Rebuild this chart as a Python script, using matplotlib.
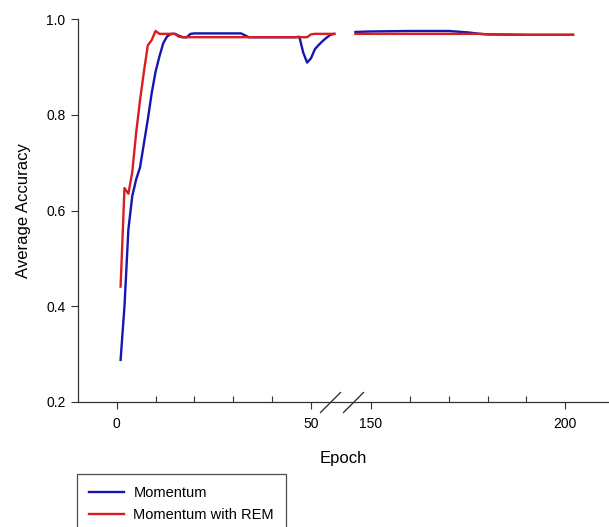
import matplotlib
matplotlib.use('Agg')
import matplotlib.pyplot as plt

plt.rcParams['font.family'] = ['Liberation Sans', 'DejaVu Sans']

# early training (epochs 1-56)
epochs_early = [1, 2, 3, 4, 5, 6, 7, 8, 9, 10, 11, 12, 13, 14, 15, 16, 17,
                18, 19, 20, 32, 33, 34, 46, 47, 48, 49, 50, 51, 52, 53, 54,
                55, 56]
momentum_early = [0.288, 0.40, 0.56, 0.63, 0.665, 0.69, 0.74, 0.79, 0.845,
                  0.89, 0.922, 0.95, 0.964, 0.969, 0.969, 0.965, 0.962,
                  0.962, 0.969, 0.970, 0.970, 0.966, 0.962, 0.962, 0.963,
                  0.93, 0.909, 0.918, 0.937, 0.946, 0.954, 0.961, 0.967,
                  0.969]
rem_early = [0.441, 0.647, 0.635, 0.68, 0.762, 0.83, 0.89, 0.945, 0.956,
             0.975, 0.969, 0.969, 0.969, 0.969, 0.969, 0.963, 0.962,
             0.962, 0.962, 0.962, 0.962, 0.962, 0.962, 0.962, 0.962,
             0.962, 0.962, 0.968, 0.969, 0.969, 0.969, 0.969, 0.969,
             0.969]

# late training (epochs 146-202)
epochs_late = [146, 150, 160, 170, 175, 178, 180, 190, 200, 202]
momentum_late = [0.973, 0.974, 0.975, 0.975, 0.972, 0.969, 0.968, 0.967,
                 0.967, 0.967]
rem_late = [0.969, 0.969, 0.969, 0.969, 0.969, 0.969, 0.968, 0.967,
            0.967, 0.967]

major_ticks = [0, 50, 150, 200]
minor_ticks = [10, 20, 30, 40, 160, 170, 180, 190]
y_ticks = [0.2, 0.4, 0.6, 0.8, 1.0]

# epochs 58-143 are cut out of the x axis
SHIFT = 84.55


def squeeze(e):
    return [x if x < 100 else x - SHIFT for x in e]


fig = plt.figure(figsize=(6.09, 5.27), dpi=100)
ax = fig.add_axes([0.1281, 0.2372, 0.8719, 0.7267])

blue = '#1515b0'
red = '#d81e1e'
ax.plot(squeeze(epochs_early), momentum_early, color=blue, lw=1.7,
        label='Momentum')
ax.plot(squeeze(epochs_late), momentum_late, color=blue, lw=1.7)
ax.plot(squeeze(epochs_early), rem_early, color=red, lw=1.7,
        label='Momentum with REM')
ax.plot(squeeze(epochs_late), rem_late, color=red, lw=1.7)

ax.set_xlim(-9.96, 126.7)
ax.set_ylim(0.2, 1.0)

ax.set_xticks(squeeze(major_ticks))
ax.set_xticklabels([str(t) for t in major_ticks])
ax.set_xticks(squeeze(minor_ticks), minor=True)
ax.set_yticks(y_ticks)
ax.set_yticklabels(['%.1f' % t for t in y_ticks])

ax.tick_params(axis='x', which='major', direction='out', length=5,
               width=0.8, labelsize=10, pad=6, color='#333333')
ax.tick_params(axis='x', which='minor', direction='in', length=4,
               width=0.8, color='#333333')
ax.tick_params(axis='y', direction='out', length=5, width=0.8,
               labelsize=10, pad=4, color='#333333')

for s in ['top', 'right']:
    ax.spines[s].set_visible(False)
for s in ['left', 'bottom']:
    ax.spines[s].set_linewidth(0.9)
    ax.spines[s].set_color('#333333')

# break marks on the x axis
brk = [(-1, -1), (1, 1)]
ax.plot([55.0, 60.7], [0.2, 0.2], ls='none', marker=brk, markersize=15,
        mec='#222222', mew=0.9, clip_on=False)

ax.set_xlabel('Epoch', fontsize=12, labelpad=14)
ax.set_ylabel('Average Accuracy', fontsize=12, labelpad=11)

leg = ax.legend(loc='upper left', bbox_to_anchor=(77 / 609, 1 - 474 / 527),
                bbox_transform=fig.transFigure, fontsize=10.5,
                frameon=True, fancybox=False, borderpad=0.85,
                handlelength=2.4, handletextpad=0.62, labelspacing=0.5,
                borderaxespad=0)
leg.get_frame().set_edgecolor('#222222')
leg.get_frame().set_linewidth(0.9)

fig.savefig('out.png', dpi=100)
